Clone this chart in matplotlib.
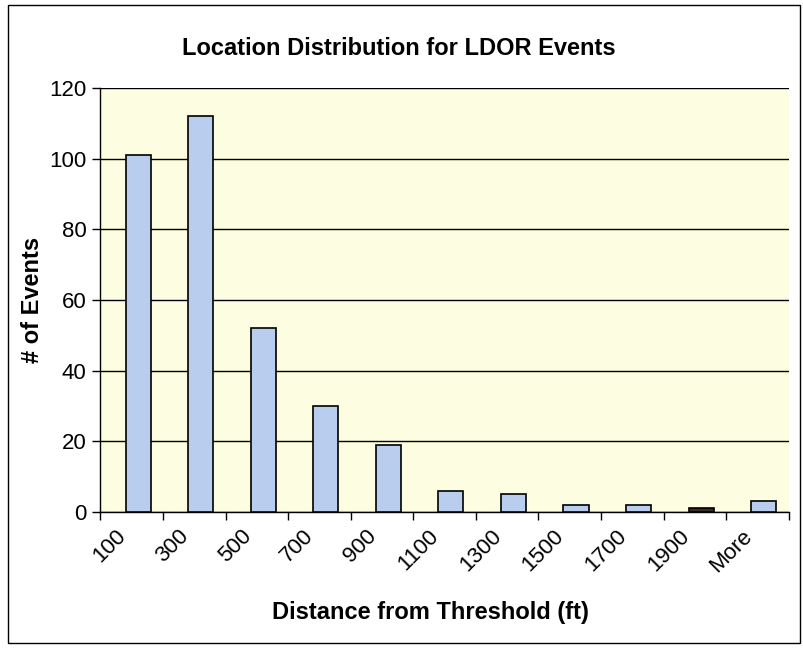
import matplotlib.pyplot as plt
import matplotlib.patches as patches
import numpy as np

plt.rcParams['font.family'] = ['Liberation Sans', 'DejaVu Sans']

# 数据
categories = ['100', '300', '500', '700', '900', '1100', '1300', '1500', '1700', '1900', 'More']
events = [101, 112, 52, 30, 19, 6, 5, 2, 2, 1, 3]
bar_colors = ['#b9cdee'] * 9 + ['#3b2b25'] + ['#b9cdee']

fig = plt.figure(figsize=(8.04, 6.48), dpi=100)
ax = fig.add_axes([0.125, 0.21, 0.856, 0.654])

# 外框
fig.patches.append(patches.Rectangle((0.01, 0.008), 0.985, 0.984, transform=fig.transFigure,
                                     fill=False, edgecolor='black', linewidth=1.0))

x = np.arange(len(categories))
ax.set_facecolor('#fdfde1')
ax.bar(x + 0.1, events, width=0.4, color=bar_colors, edgecolor='black', linewidth=1.2, zorder=3)

# 网格线
ax.set_ylim(0, 120)
ax.set_yticks(range(0, 121, 20))
ax.yaxis.grid(True, color='black', linewidth=1.0, zorder=1)
ax.set_axisbelow(True)

ax.set_xlim(-0.5, len(categories) - 0.5)
ax.set_xticks(x - 0.26)
ax.set_xticklabels(categories, rotation=45, ha='right', rotation_mode='anchor')
ax.set_xticks(np.arange(-0.5, len(categories), 1.0), minor=True)
ax.tick_params(axis='x', which='major', length=0, pad=10, labelsize=16)
ax.tick_params(axis='x', which='minor', length=6, direction='out', width=1.0)
ax.tick_params(axis='y', length=6, width=1.0, labelsize=16, pad=4)

for s in ['top', 'right']:
    ax.spines[s].set_visible(False)
ax.spines['left'].set_linewidth(1.0)
ax.spines['bottom'].set_linewidth(1.0)

ax.set_title('Location Distribution for LDOR Events', fontsize=17, fontweight='bold',
             x=0.433, pad=24)
ax.set_ylabel('# of Events', fontsize=17, fontweight='bold', labelpad=4)
ax.set_xlabel('Distance from Threshold (ft)', fontsize=17, fontweight='bold', labelpad=18)
ax.xaxis.label.set_x(0.479)

fig.savefig('out.png', dpi=100)
